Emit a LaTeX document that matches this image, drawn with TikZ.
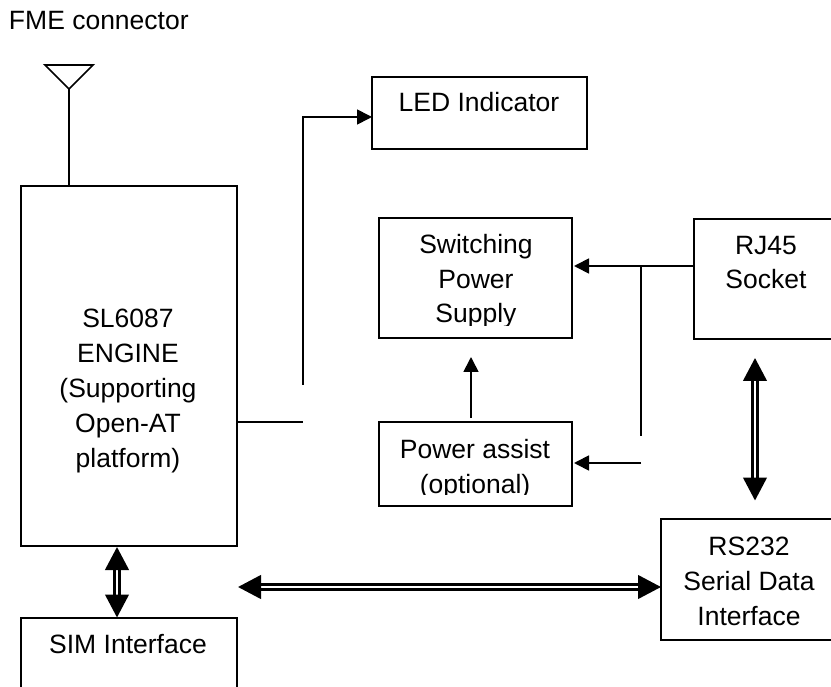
\documentclass[tikz,border=0pt]{standalone}
\usepackage{fontspec}
\setmainfont{Liberation Sans}
\usetikzlibrary{arrows.meta}
\tikzset{
  boxnode/.style={draw=black,line width=1.7pt,inner sep=0pt,outer sep=0pt,fill=none},
  txt/.style={inner sep=0pt,outer sep=0pt,align=center,anchor=base,font=\fontsize{26.5}{34.8}\selectfont,text=black},
  wire/.style={draw=black,line width=1.7pt},
  arr/.style={wire,-{Triangle[length=15pt,width=15pt]}},
  dblarr/.style={draw=black,line width=2.8pt,double=white,double distance=2.4pt,
    {Triangle[length=23pt,width=23.5pt]}-{Triangle[length=23pt,width=23.5pt]}}
}
\begin{document}
\begin{tikzpicture}[x=1pt,y=-1pt]
\clip (0,0) rectangle (831,687);
\fill[white] (0,0) rectangle (831,687);
% boxes
\node[boxnode,minimum width=216pt,minimum height=360pt] (sl) at (129,366) {};
\node[boxnode,minimum width=215pt,minimum height=72pt] (led) at (479.5,113) {};
\node[boxnode,minimum width=193pt,minimum height=120pt] (sw) at (475.5,278) {};
\node[boxnode,minimum width=151pt,minimum height=120pt] (rj) at (769.5,279) {};
\node[boxnode,minimum width=193pt,minimum height=84pt] (pa) at (475.5,464) {};
\node[boxnode,minimum width=184pt,minimum height=121pt] (rs) at (753,579.5) {};
\node[boxnode,minimum width=216pt,minimum height=102pt] (sim) at (129,669) {};
% texts
\node[txt,anchor=base west] (fme) at (9,30) {FME connector};
\node[txt] (sltxt) at (128,467) {SL6087\\ENGINE\\(Supporting\\Open-AT\\platform)};
\node[txt] (ledtxt) at (479,112) {LED Indicator};
\begin{scope}
\clip (380,219) rectangle (571,325.5);
\node[txt] (swtxt) at (476,323) {Switching\\Power\\Supply};
\end{scope}
\node[txt] (rjtxt) at (766,289) {RJ45\\Socket};
\begin{scope}
\clip (380,423) rectangle (571,494.5);
\node[txt] (patxt) at (475,493) {Power assist\\(optional)};
\end{scope}
\node[txt] (rstxt) at (749,625.5) {RS232\\Serial Data\\Interface};
\node[txt] (simtxt) at (128,653) {SIM Interface};
% antenna
\coordinate (antl) at (45,65);
\coordinate (antr) at (93,65);
\coordinate (anta) at (69,89);
\draw[wire,line join=miter] (antl) -- (antr) -- (anta) -- cycle;
\coordinate (antb) at (69,186);
\draw[wire] (anta) -- (antb);
% LED feed
\coordinate (slout) at (237,422);
\coordinate (slend) at (303,422);
\draw[wire] (slout) -- (slend);
\coordinate (ledstart) at (303,385);
\coordinate (ledin) at (372,117);
\draw[arr] (ledstart) |- (ledin);
% power
\coordinate (rjout) at (694,266);
\coordinate (swin) at (574,266);
\draw[arr] (rjout) -- (swin);
\coordinate (bra) at (641,266);
\coordinate (brb) at (641,436);
\draw[wire] (bra) -- (brb);
\coordinate (pafrom) at (641,463);
\coordinate (pain) at (574,463);
\draw[arr] (pafrom) -- (pain);
\coordinate (paup) at (471,418);
\coordinate (swbot) at (471,357);
\draw[arr] (paup) -- (swbot);
% double arrows
\coordinate (rjd) at (755,358);
\coordinate (rsu) at (755,500.5);
\draw[dblarr] (rjd) -- (rsu);
\coordinate (slb) at (238,587);
\coordinate (rsl) at (661,587);
\draw[dblarr] (slb) -- (rsl);
\coordinate (sld) at (117,547);
\coordinate (simu) at (117,617.5);
\draw[dblarr] (sld) -- (simu);
\end{tikzpicture}
\end{document}
